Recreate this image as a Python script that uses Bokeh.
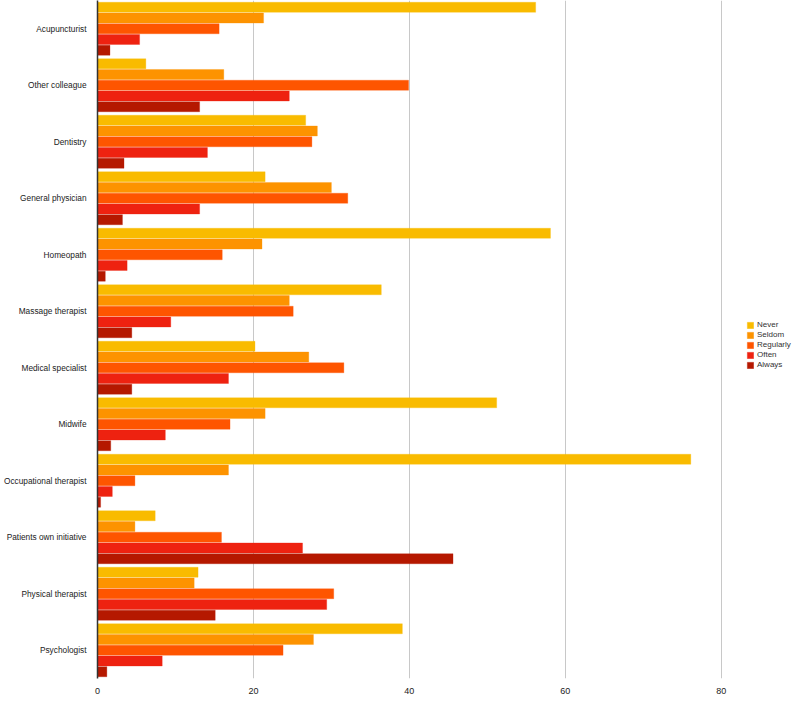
from bokeh.plotting import figure
from bokeh.models import FactorRange, Range1d, FixedTicker, ColumnDataSource, Legend, LegendItem
from bokeh.transform import dodge
from bokeh.embed import file_html
from bokeh.resources import INLINE

categories = ["Acupuncturist", "Other colleague", "Dentistry", "General physician",
              "Homeopath", "Massage therapist", "Medical specialist", "Midwife",
              "Occupational therapist", "Patients own initiative", "Physical therapist",
              "Psychologist"]
series = ["Never", "Seldom", "Regularly", "Often", "Always"]
never =     [56.2, 6.2, 26.7, 21.5, 58.1, 36.4, 20.2, 51.2, 76.1, 7.4, 12.9, 39.1]
seldom =    [21.3, 16.2, 28.2, 30.0, 21.1, 24.6, 27.1, 21.5, 16.8, 4.8, 12.4, 27.7]
regularly = [15.6, 39.9, 27.5, 32.1, 16.0, 25.1, 31.6, 17.0, 4.8, 15.9, 30.3, 23.8]
often =     [5.4, 24.6, 14.1, 13.1, 3.8, 9.4, 16.8, 8.7, 1.9, 26.3, 29.4, 8.3]
always =    [1.6, 13.1, 3.4, 3.2, 1.0, 4.4, 4.4, 1.7, 0.4, 45.6, 15.1, 1.2]
x_ticks = [0, 20, 40, 60, 80]

colors = ["#F9BB00", "#FD9300", "#FE5500", "#EE2210", "#B51800"]
offsets = [0.38, 0.19, 0.0, -0.19, -0.38]

source = ColumnDataSource(dict(cat=categories, Never=never, Seldom=seldom,
                               Regularly=regularly, Often=often, Always=always))

p = figure(frame_width=697, frame_height=678, output_backend="svg", toolbar_location=None,
           y_range=FactorRange(factors=list(reversed(categories)), range_padding=0),
           x_range=Range1d(0, 89.4), min_border_top=0, min_border_right=0,
           min_border_bottom=0, min_border_left=0)

items = []
for s, c, off in zip(series, colors, offsets):
    r = p.hbar(y=dodge("cat", off, range=p.y_range), right=s, left=0, height=0.178,
               source=source, fill_color=c, line_color=c, line_alpha=0.6, line_width=0.5)
    items.append(LegendItem(label=s, renderers=[r]))

legend = Legend(items=items, location=(649, 309), border_line_color=None,
                background_fill_alpha=0, glyph_width=8, glyph_height=8,
                label_text_font_size="8px", label_text_font="Liberation Sans",
                label_text_color="#333333", label_height=8, spacing=1, padding=2,
                label_standoff=3, margin=0)
p.add_layout(legend)

p.outline_line_color = None
p.ygrid.grid_line_color = None
p.xgrid.grid_line_color = "#C8C8C8"
p.xgrid.grid_line_width = 1
p.xaxis.ticker = FixedTicker(ticks=x_ticks)
p.xaxis.axis_line_color = None
p.xaxis.major_tick_line_color = None
p.xaxis.minor_tick_line_color = None
p.xaxis.major_label_text_font = "Liberation Sans"
p.xaxis.major_label_text_font_size = "9px"
p.xaxis.major_label_text_color = "#222222"
p.xaxis.major_label_standoff = 3

p.yaxis.axis_line_color = "#333333"
p.yaxis.axis_line_width = 1.5
p.yaxis.major_tick_line_color = None
p.yaxis.minor_tick_line_color = None
p.yaxis.major_label_text_font = "Liberation Sans"
p.yaxis.major_label_text_font_size = "8.3px"
p.yaxis.major_label_text_color = "#222222"
p.yaxis.major_label_standoff = 5

open("out.html", "w").write(file_html(p, INLINE))
